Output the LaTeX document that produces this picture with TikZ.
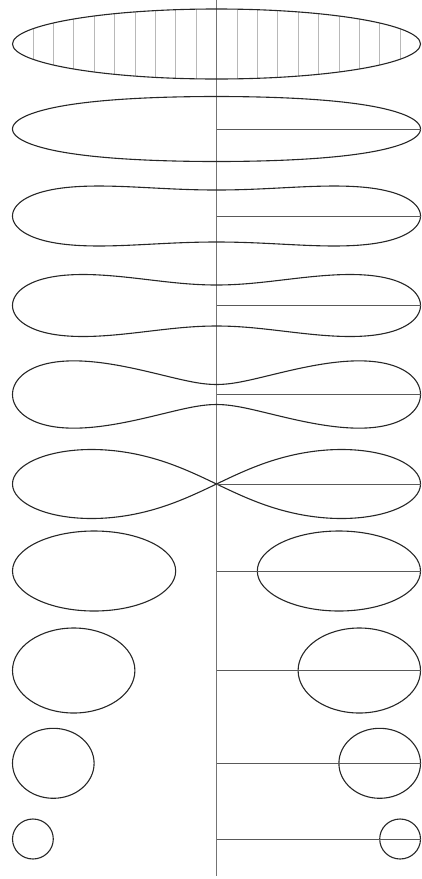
\documentclass[tikz,border=0pt]{standalone}
\begin{document}
\begin{tikzpicture}[x=1pt,y=-1pt,
  oval/.style={draw=black!85, line width=1.1pt},
  axisline/.style={draw=black!55, line width=1.3pt},
  rline/.style={draw=black!65, line width=0.9pt},
  hatch/.style={draw=black!28, line width=0.6pt}]
\useasboundingbox (0,0) rectangle (422,879);
% hatching of the first ellipse
\begin{scope}
  \clip (216.5,44) ellipse [x radius=204, y radius=35];
  \foreach \k in {-9,...,-1,1,2,...,9}
    \draw[hatch] ({216.5+20.4*\k},0) -- ++(0,90);
\end{scope}
% vertical axis
\coordinate (top) at (216.5,0);
\coordinate (bot) at (216.5,876);
\draw[axisline] (top) -- (bot);
% shape 1: ellipse
\draw[oval] (216.5,44) ellipse [x radius=204, y radius=35];
% shapes 2-5: profile y = h0 sin t sqrt(1+q cos^2 t)
\foreach \yc/\h/\q in {129/32.5/0.3, 216/26/2.985, 305.5/20.5/7.005, 394.5/10/43.27}{
  \draw[oval] plot[domain=0:358, samples=180, smooth cycle, variable=\t]
    ({216.5+204*cos(\t)}, {\yc-\h*sin(\t)*sqrt(1+\q*cos(\t)*cos(\t))});
}
% shape 6: lemniscate
\draw[oval] plot[domain=0:358, samples=180, smooth cycle, variable=\t]
  ({216.5+204*cos(\t)/(1+sin(\t)*sin(\t))}, {484-97.6*sin(\t)*cos(\t)/(1+sin(\t)*sin(\t))});
% shapes 7-10: pairs of ellipses
\foreach \yc/\d/\rx/\ry in {571/122.4/81.6/40, 670.5/142.8/61.2/42.5, 763.3/163.2/40.8/35, 839/183.6/20.4/20}{
  \draw[oval] ({216.5-\d},\yc) ellipse [x radius=\rx, y radius=\ry];
  \draw[oval] ({216.5+\d},\yc) ellipse [x radius=\rx, y radius=\ry];
}
% radius lines
\foreach \n/\yc in {a/129, b/216, c/305.5, d/394.5, e/484, f/571, g/670.5, h/763.3, i/839}{
  \coordinate (s\n) at (216.5,\yc);
  \coordinate (e\n) at (420.5,\yc);
  \draw[rline] (s\n) -- (e\n);
}
\end{tikzpicture}
\end{document}
